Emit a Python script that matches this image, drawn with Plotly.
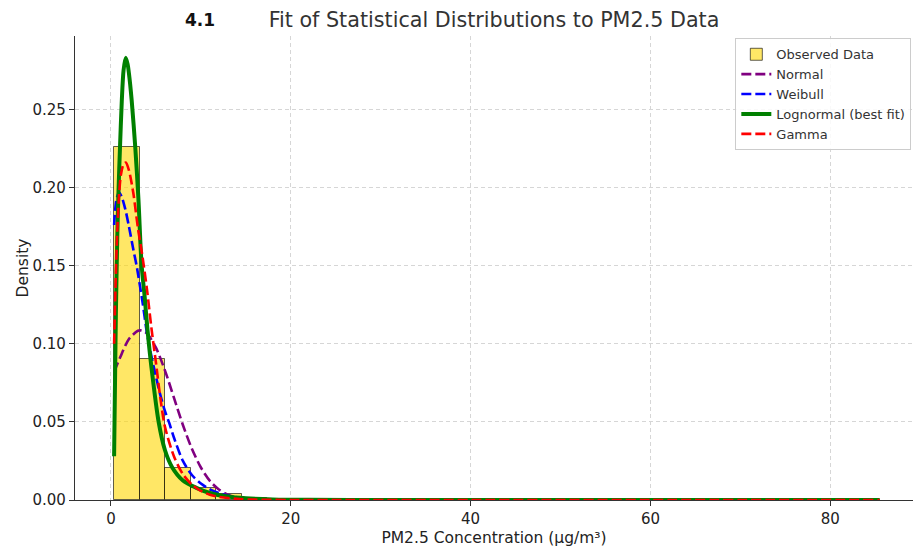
import numpy as np
import plotly.graph_objects as go

# Histogram of PM2.5 readings: 30 equal-width bins between the observed min and max
pm_min = 0.35
pm_max = 85.5
n_bins = 30
hist_density = [
    0.2259, 0.0903, 0.0205, 0.0078, 0.0037, 0.0012, 0.0007, 0.0005, 0.0003, 0.0003,
    0.0002, 0.0002, 0.0001, 0.0001, 0.0001, 0.0001, 0.0001, 0.0, 0.0001, 0.0,
    0.0, 0.0001, 0.0, 0.0, 0.0, 0.0, 0.0, 0.0, 0.0, 0.0001,
]

# Fitted probability density curves (x in µg/m³, y = density)
normal_x = [0.35, 1.0, 2.0, 3.0, 3.4, 4.0, 5.0, 6.0, 7.0, 8.0, 9.0, 10.0, 11.0, 12.0,
            13.0, 14.0, 15.0, 16.0, 18.0, 20.0, 25.0, 40.0, 60.0, 85.5]
normal_y = [0.082, 0.091, 0.103, 0.1083, 0.1085, 0.1066, 0.0975, 0.083, 0.0655, 0.048,
            0.0328, 0.0208, 0.0122, 0.0067, 0.0034, 0.0016, 0.0007, 0.0003, 0.00004, 0.0,
            0.0, 0.0, 0.0, 0.0]

weibull_x = [0.35, 0.6, 0.9, 1.2, 1.6, 2.0, 2.5, 2.85, 3.5, 4.0, 4.5, 5.0, 5.5, 6.0, 6.5,
             7.0, 8.0, 9.0, 10.0, 11.0, 12.0, 13.0, 14.0, 16.0, 18.0, 20.0, 25.0, 40.0,
             60.0, 85.5]
weibull_y = [0.176, 0.192, 0.197, 0.194, 0.186, 0.175, 0.160, 0.150, 0.127, 0.107, 0.092,
             0.079, 0.067, 0.057, 0.049, 0.040, 0.025, 0.016, 0.0105, 0.0068, 0.0044,
             0.0028, 0.0018, 0.0007, 0.00025, 0.0001, 0.0, 0.0, 0.0, 0.0]

lognormal_x = [0.35, 0.45, 0.55, 0.7, 0.85, 1.0, 1.2, 1.4, 1.63, 1.85, 2.0, 2.3, 2.7, 3.05,
               3.4, 3.75, 4.07, 4.5, 5.3, 6.0, 6.8, 8.0, 9.5, 11.0, 13.0, 15.0, 18.0, 22.0,
               30.0, 45.0, 65.0, 85.5]
lognormal_y = [0.028, 0.075, 0.12, 0.168, 0.200, 0.225, 0.255, 0.275, 0.283, 0.279, 0.273,
               0.256, 0.226, 0.193, 0.151, 0.130, 0.1085, 0.085, 0.050, 0.032, 0.021,
               0.0125, 0.0078, 0.0045, 0.0022, 0.0011, 0.0004, 0.0001, 0.0, 0.0, 0.0, 0.0]

gamma_x = [0.35, 0.5, 0.7, 0.9, 1.1, 1.4, 1.65, 2.0, 2.5, 3.0, 3.5, 4.0, 4.5, 5.0, 5.5, 6.0,
           7.0, 8.0, 9.0, 10.0, 11.0, 12.0, 14.0, 16.0, 20.0, 25.0, 40.0, 60.0, 85.5]
gamma_y = [0.100, 0.135, 0.172, 0.195, 0.208, 0.215, 0.216, 0.211, 0.196, 0.174, 0.156,
           0.135, 0.110, 0.088, 0.065, 0.047, 0.028, 0.0165, 0.0098, 0.0058, 0.0034,
           0.0020, 0.0007, 0.00024, 0.00003, 0.0, 0.0, 0.0, 0.0]

edges = np.linspace(pm_min, pm_max, n_bins + 1)
centers = (edges[:-1] + edges[1:]) / 2
bin_width = edges[1] - edges[0]

font_family = "DejaVu Sans, Verdana, sans-serif"

fig = go.Figure()

fig.add_trace(go.Bar(
    x=centers, y=hist_density, width=bin_width,
    name="Observed Data",
    marker=dict(color="rgba(255,215,0,0.6)",
                line=dict(color="rgba(0,0,0,0.62)", width=1)),
))

dash = "10px,4px"
fig.add_trace(go.Scatter(x=normal_x, y=normal_y, mode="lines", name="Normal",
                         line=dict(color="purple", width=2.6, dash=dash,
                                   shape="spline", smoothing=0.8)))
fig.add_trace(go.Scatter(x=weibull_x, y=weibull_y, mode="lines", name="Weibull",
                         line=dict(color="blue", width=2.6, dash=dash,
                                   shape="spline", smoothing=0.8)))
fig.add_trace(go.Scatter(x=lognormal_x, y=lognormal_y, mode="lines",
                         name="Lognormal (best fit)",
                         line=dict(color="green", width=4, shape="spline",
                                   smoothing=0.8)))
fig.add_trace(go.Scatter(x=gamma_x, y=gamma_y, mode="lines", name="Gamma",
                         line=dict(color="red", width=2.6, dash=dash,
                                   shape="spline", smoothing=0.8)))

axis_common = dict(
    showline=True, linecolor="#333333", linewidth=1.2, mirror=False,
    ticks="outside", ticklen=5, tickcolor="#333333", tickwidth=1,
    showgrid=True, gridcolor="#d6d6d6", gridwidth=1, griddash="4px,3px",
    zeroline=False,
    tickfont=dict(family=font_family, size=15, color="#222222"),
)

fig.update_layout(
    width=915, height=547,
    margin=dict(l=75, r=2, t=36, b=43),
    paper_bgcolor="white", plot_bgcolor="white",
    bargap=0,
    showlegend=True,
    title=dict(text="Fit of Statistical Distributions to PM2.5 Data",
               x=0.5, xref="paper", y=1 - 20 / 547, yanchor="middle",
               font=dict(family=font_family, size=20.7, color="#333333")),
    legend=dict(x=0.998, y=0.995, xanchor="right", yanchor="top",
                bgcolor="rgba(255,255,255,0.85)", bordercolor="#cccccc",
                borderwidth=1,
                font=dict(family=font_family, size=13, color="#333333"),
                tracegroupgap=0),
    xaxis=dict(range=[-4.0, 89.2], tickvals=[0, 20, 40, 60, 80],
               title=dict(text="PM2.5 Concentration (μg/m³)", standoff=6,
                          font=dict(family=font_family, size=15.5, color="#222222")),
               **axis_common),
    yaxis=dict(range=[0, 0.297], tickvals=[0, 0.05, 0.10, 0.15, 0.20, 0.25],
               tickformat=".2f",
               title=dict(text="Density", standoff=0,
                          font=dict(family=font_family, size=15.5, color="#222222")),
               **axis_common),
    annotations=[dict(text="<b>4.1</b>", x=0.149, xref="paper", xanchor="center",
                      y=1 + 16 / 468, yref="paper", yanchor="middle", showarrow=False,
                      font=dict(family=font_family, size=17, color="#111111"))],
)

fig.write_html("out.html")
